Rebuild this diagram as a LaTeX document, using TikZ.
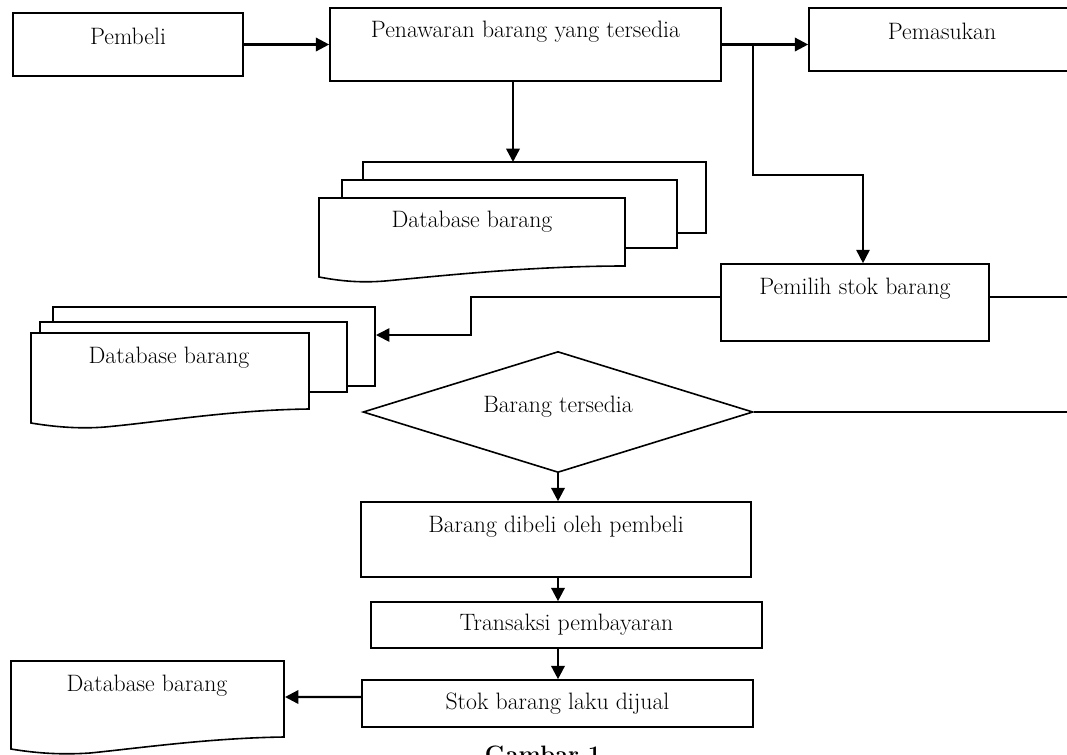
\documentclass[tikz,border=0pt]{standalone}
\usepackage{fontspec}
\usetikzlibrary{arrows.meta,shapes.geometric,positioning}
\begin{document}
\begin{tikzpicture}[x=0.75pt,y=-0.75pt,
    txt/.style={font=\fontsize{17.8}{21}\selectfont},
    box/.style={txt,draw,line width=1.2pt,fill=white,inner sep=0pt,text height=12.3pt},
    sheet/.style={draw,line width=1.2pt,fill=white},
    tip/.style={-{Triangle[length=10pt,width=10pt]}},
    flow/.style={line width=1.8pt,tip},
    link/.style={line width=1.2pt}]
      \useasboundingbox (0,0) rectangle (1067,754);
      \clip (0,0) rectangle (1067,754);

      %%%%  Boxes
      \node[box,minimum width=172.5pt,minimum height=47.25pt,text depth=11.6pt] (beli) at (128,44.5) {Pembeli};
      \node[box,minimum width=293.25pt,minimum height=54.75pt,text depth=22.2pt] (pen) at (525.5,44.5) {Penawaran barang yang tersedia};
      \node[box,minimum width=199.5pt,minimum height=47.25pt,text depth=12.2pt] (pem) at (942,39.5) {Pemasukan};
      \node[box,minimum width=201pt,minimum height=57.75pt,text depth=23.6pt] (pil) at (855,302.5) {Pemilih stok barang};
      \node[box,diamond,aspect=3.2,minimum width=292.5pt,minimum height=90.75pt,text depth=10.9pt] (ada) at (558,412) {Barang tersedia};
      \node[box,minimum width=292.5pt,minimum height=56.25pt,text depth=22.2pt] (dibeli) at (556,539.5) {Barang dibeli oleh pembeli};
      \node[box,minimum width=293.25pt,minimum height=34.5pt,text depth=3.4pt] (bayar) at (566.5,625) {Transaksi pembayaran};
      \node[box,minimum width=293.25pt,minimum height=35.25pt,text depth=3.4pt] (stok) at (557.5,703.5) {Stok barang laku dijual};

      %%%%  Database stack 1
      \draw[sheet] (363,162) rectangle (706,233);
      \draw[sheet] (342,180) rectangle (677,248);
      \draw[sheet] (319,277) -- (319,198) -- (625,198) -- (625,266)
        .. controls (530,266) and (440,276) .. (385,281)
        .. controls (360,283) and (340,281) .. (319,277) -- cycle;
      \node[txt] (dbA) at (472,222) {Database barang};
      \coordinate (dbAin) at (513,162);

      %%%%  Database stack 2
      \draw[sheet] (53,307) rectangle (375,386);
      \draw[sheet] (40,322) rectangle (347,392);
      \draw[sheet] (31,423) -- (31,333) -- (309,333) -- (309,409)
        .. controls (230,410) and (160,422) .. (105,427)
        .. controls (80,429) and (55,427) .. (31,423) -- cycle;
      \node[txt] (dbB) at (169,358) {Database barang};
      \coordinate (dbBin) at (376,335);
      \coordinate (turnB) at (471,335);

      %%%%  Database 3
      \draw[sheet] (11,749) -- (11,661) -- (284,661) -- (284,737)
        .. controls (210,738) and (140,748) .. (90,753)
        .. controls (60,755) and (35,753) .. (11,749) -- cycle;
      \node[txt] (dbC) at (147,686) {Database barang};
      \coordinate (dbCin) at (285,697);

      %%%%  Connectors
      \coordinate (split) at (753,44.5);
      \coordinate (kink) at (753,175);
      \coordinate (pilin) at ([xshift=6pt]pil.north);
      \coordinate (pilout) at (1070,297);
      \coordinate (adaout) at (1070,412);

      \draw[flow] (beli) -- (pen);
      \draw[flow] (pen.east) -- (pen.east -| pem.west);
      \draw[flow] (pen.south -| dbAin) -- (dbAin);
      \draw[link,tip] (split) -- (kink) -| (pilin);
      \draw[link,tip] ([yshift=4.1pt]pil.west) -| (turnB) -- (dbBin);
      \draw[link] ([yshift=4.1pt]pil.east) -- (pilout);
      \draw[link] (ada.east) -- (adaout);
      \draw[flow] (ada.south) -- (ada.south |- dibeli.north);
      \draw[flow] (ada.south |- dibeli.south) -- (ada.south |- bayar.north);
      \draw[flow] (ada.south |- bayar.south) -- (ada.south |- stok.north);
      \draw[flow] ([yshift=4.9pt]stok.west) -- (dbCin);

      \node[font=\bfseries\fontsize{17.8}{21}\selectfont,anchor=north,inner sep=0pt] (cap) at (543,746) {Gambar 1};
    \end{tikzpicture}
\end{document}
